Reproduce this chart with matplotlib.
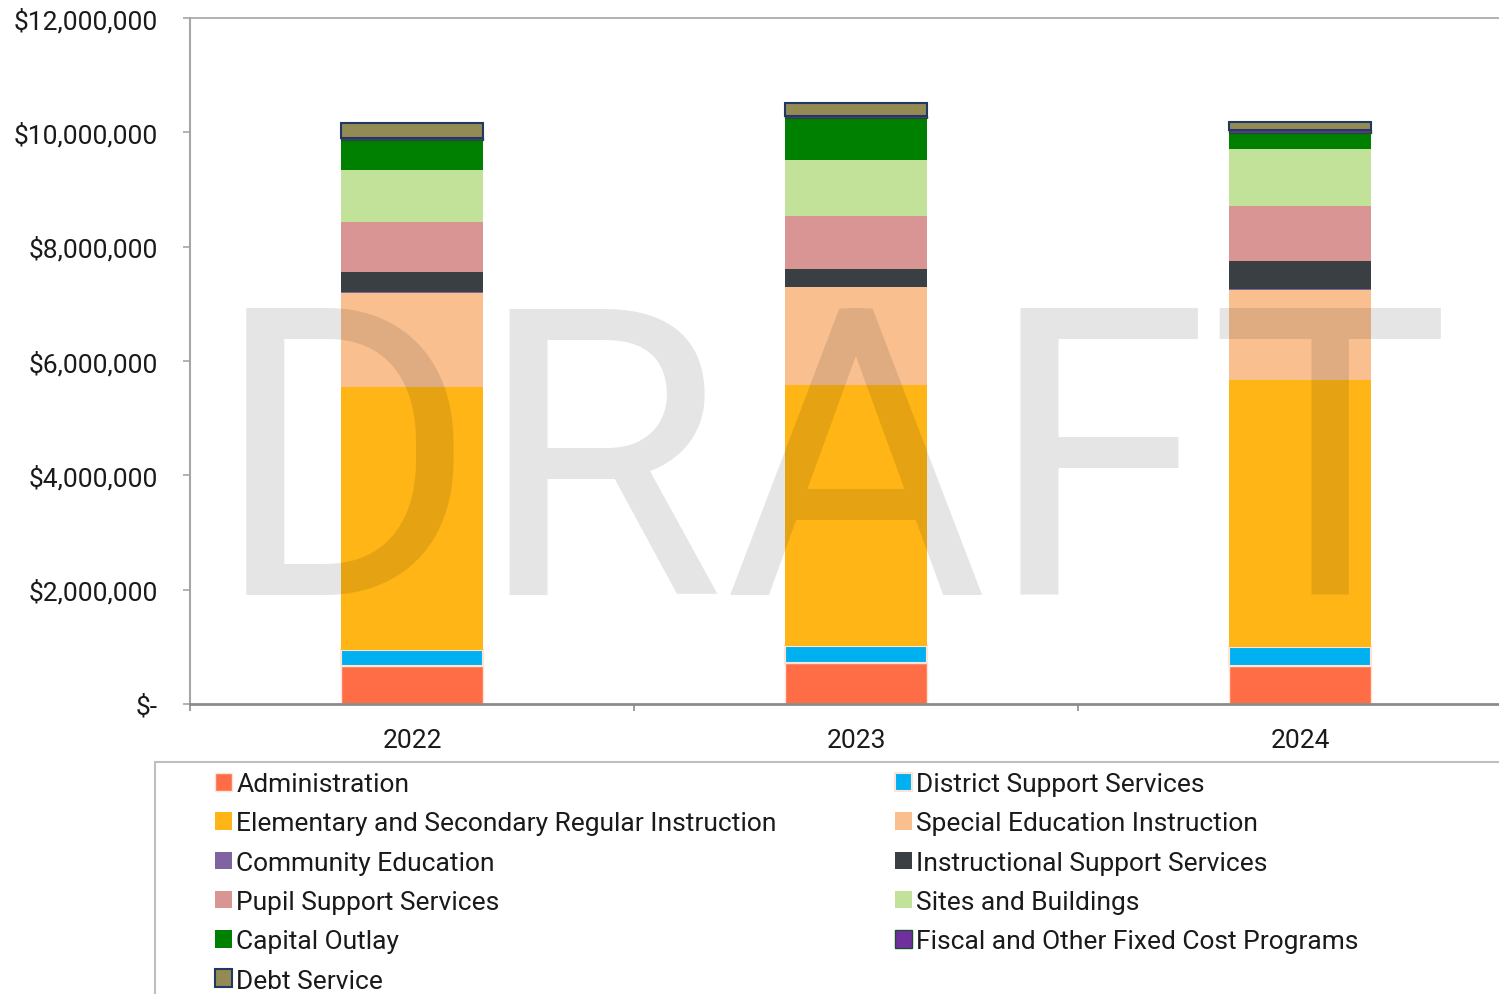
import matplotlib
matplotlib.use('Agg')
import matplotlib.pyplot as plt
from matplotlib.patches import Rectangle
from matplotlib.ticker import FuncFormatter
import numpy as np

plt.rcParams['font.family'] = ['Roboto', 'DejaVu Sans']

years = ['2022', '2023', '2024']
categories = [
    'Administration',
    'District Support Services',
    'Elementary and Secondary Regular Instruction',
    'Special Education Instruction',
    'Community Education',
    'Instructional Support Services',
    'Pupil Support Services',
    'Sites and Buildings',
    'Capital Outlay',
    'Fiscal and Other Fixed Cost Programs',
    'Debt Service',
]
administration = [665000, 717000, 665000]
district_support = [280000, 297000, 332000]
elementary_secondary = [4600000, 4565000, 4670000]
special_education = [1644000, 1714000, 1574000]
community_education = [10000, 10000, 10000]
instructional_support = [350000, 315000, 507000]
pupil_support = [875000, 910000, 945000]
sites_buildings = [910000, 980000, 997000]
capital_outlay = [525000, 740000, 297000]
fiscal_fixed = [50000, 40000, 45000]
debt_service = [260000, 220000, 140000]

series = [administration, district_support, elementary_secondary, special_education,
          community_education, instructional_support, pupil_support, sites_buildings,
          capital_outlay, fiscal_fixed, debt_service]
colors = ['#FF6D47', '#00B0F0', '#FFB515', '#F9BF8F', '#8064A2', '#3A3F44',
          '#D99594', '#C2E29A', '#008000', '#7030A0', '#948A54']
edges = ['#FCE4D6', '#FCE4D6', 'none', 'none', 'none', 'none',
         'none', 'none', 'none', '#1E4D2B', '#1F3864']
lws = [1.0, 1.5, 0, 0, 0, 0, 0, 0, 0, 1.0, 1.5]

W, H = 1499, 995
fig = plt.figure(figsize=(W / 100, H / 100), dpi=100)
ax = fig.add_axes([190 / W, 1 - 705 / H, (1522 - 190) / W, (705 - 19) / H])

x = np.arange(len(years))
bottom = np.zeros(len(years))
handles = []
for name, vals, c, ec, lw in zip(categories, series, colors, edges, lws):
    b = ax.bar(x, vals, width=0.32, bottom=bottom, color=c, edgecolor=ec,
               linewidth=lw, label=name)
    handles.append(b)
    bottom += np.array(vals)

ax.set_xlim(-0.5, 2.5)
ax.set_ylim(0, 12000000)
ax.set_yticks(np.arange(0, 12000001, 2000000))

def fmt(v, pos):
    if v == 0:
        return '$-'
    return '${:,.0f}'.format(v)

FS = 19
ax.yaxis.set_major_formatter(FuncFormatter(fmt))
ax.tick_params(axis='y', labelsize=FS, length=5, width=1.2, color='#A6A6A6',
               pad=18, labelcolor='#1a1a1a')
ax.set_xticks(x)
ax.set_xticklabels(years)
ax.set_xticks([-0.5, 0.5, 1.5, 2.5], minor=True)
ax.tick_params(axis='x', which='major', length=0, labelsize=FS, pad=17.5,
               labelcolor='#1a1a1a')
ax.tick_params(axis='x', which='minor', length=5, width=1.2, color='#8C8C8C')

ax.spines['right'].set_visible(False)
ax.spines['top'].set_color('#A6A6A6')
ax.spines['top'].set_linewidth(1.2)
ax.spines['left'].set_color('#A6A6A6')
ax.spines['left'].set_linewidth(1.5)
ax.spines['bottom'].set_color('#8C8C8C')
ax.spines['bottom'].set_linewidth(2)

# legend frame
fig.patches.append(Rectangle((155 / W, -0.05), 1.1, (1 - 763 / H) + 0.05,
                             transform=fig.transFigure, facecolor='none',
                             edgecolor='#BFBFBF', linewidth=1.5))

order = [0, 2, 4, 6, 8, 10, 1, 3, 5, 7, 9]
leg = fig.legend([handles[i] for i in order], [categories[i] for i in order],
                 ncol=2, loc='upper left', bbox_to_anchor=(215 / W, 1 - 773 / H),
                 frameon=False, fontsize=FS, handlelength=0.65, handleheight=0.65,
                 handletextpad=0.15, labelspacing=0.58, columnspacing=4.5,
                 borderpad=0, borderaxespad=0)
for t in leg.get_texts():
    t.set_color('#1a1a1a')

fig.text(832 / W, 1 - 595 / H, 'DRAFT', fontsize=290, color='black', alpha=0.1,
         ha='center', va='baseline', zorder=10)

fig.savefig('out.png', dpi=100)
